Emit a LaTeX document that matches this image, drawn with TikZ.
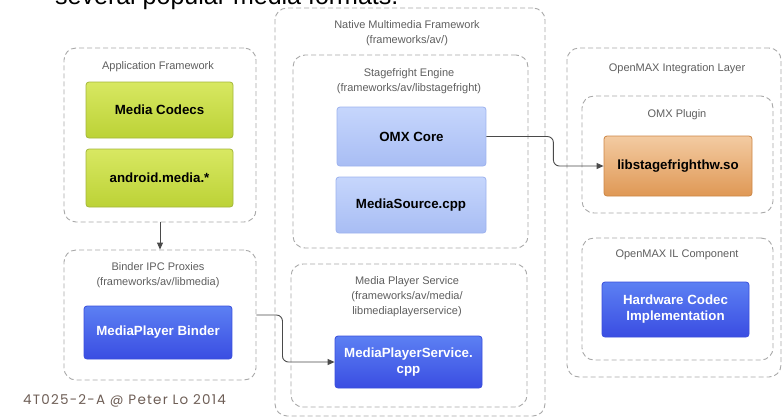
\documentclass[tikz,border=0pt]{standalone}
\usepackage{fontspec}
\setmainfont{Liberation Sans}
\newfontfamily\footfont[LetterSpace=9]{Poppins}
\usepackage{tikz}
\usetikzlibrary{arrows.meta}
\usepackage{xcolor}
\definecolor{groupgray}{HTML}{A8A8A8}
\definecolor{titlegray}{HTML}{5E5E5E}
\definecolor{linkgray}{HTML}{4A4A4A}
\definecolor{footbrown}{HTML}{6E5E56}
\definecolor{greentop}{HTML}{D8E862}
\definecolor{greenbot}{HTML}{BCD236}
\definecolor{greenline}{HTML}{A3B63A}
\definecolor{paletop}{HTML}{C6D6FC}
\definecolor{palebot}{HTML}{A8BDF4}
\definecolor{paleline}{HTML}{9DB2EE}
\definecolor{deeptop}{HTML}{5C80F3}
\definecolor{deepbot}{HTML}{3A4DE2}
\definecolor{deepline}{HTML}{3A4EDC}
\definecolor{orangetop}{HTML}{F3CBA2}
\definecolor{orangebot}{HTML}{DF9855}
\definecolor{orangeline}{HTML}{CC8646}

\tikzset{
  group/.style={draw=groupgray, line width=0.9pt, dash pattern=on 5pt off 3pt,
    rounded corners=12pt, inner sep=0pt},
  grouptitle/.style={text=titlegray, font=\fontsize{11}{15}\selectfont, align=center},
  block/.style={rounded corners=3pt, line width=0.8pt, align=center,
    font=\fontsize{13.3}{16}\selectfont\bfseries, inner sep=0pt},
  greenbox/.style={block, draw=greenline, top color=greentop, bottom color=greenbot},
  paleblue/.style={block, draw=paleline, top color=paletop, bottom color=palebot},
  deepblue/.style={block, draw=deepline, top color=deeptop, bottom color=deepbot, text=white},
  orangebox/.style={block, draw=orangeline, top color=orangetop, bottom color=orangebot},
  link/.style={draw=linkgray, line width=0.9pt, rounded corners=6pt, -{Triangle[length=7pt,width=6pt]}}
}

\begin{document}
\begin{tikzpicture}[x=1pt, y=-1pt]
\clip (0,0) rectangle (784,418);

% heading of the slide, cut at the top edge
\node[anchor=base west, inner sep=0pt, font=\fontsize{25}{30}\selectfont] (heading) at (55,4.5) {several popular media formats.};

% Left column
\node[group, minimum width=192pt, minimum height=174pt] (appfw) at (160,135) {};
\node[grouptitle] (appfwtitle) at (158,67) {Application Framework};
\node[greenbox, minimum width=147pt, minimum height=56pt] (codecs) at (159.5,110) {Media Codecs};
\node[greenbox, minimum width=147pt, minimum height=58pt] (andmedia) at (159.5,178) {android.media.*};

\node[group, minimum width=192pt, minimum height=130pt] (binderfw) at (160,315) {};
\node[grouptitle] (binderfwtitle) at (158,275.5) {Binder IPC Proxies\\(frameworks/av/libmedia)};
\node[deepblue, minimum width=148pt, minimum height=53pt] (mpbinder) at (158,332.5) {MediaPlayer Binder};

% Middle column
\node[group, minimum width=270pt, minimum height=408pt] (nativefw) at (410,212) {};
\node[grouptitle] (nativefwtitle) at (407,33) {Native Multimedia Framework\\(frameworks/av/)};

\node[group, minimum width=235pt, minimum height=193pt] (stagefright) at (410.5,151.5) {};
\node[grouptitle] (stagefrighttitle) at (409,81) {Stagefright Engine\\(frameworks/av/libstagefright)};
\node[paleblue, minimum width=149pt, minimum height=59pt] (omxcore) at (411.5,136.5) {OMX Core};
\node[paleblue, minimum width=150pt, minimum height=56pt] (mediasrc) at (411,205) {MediaSource.cpp};

\node[group, minimum width=236pt, minimum height=143pt] (mpsfw) at (409,335.5) {};
\node[grouptitle] (mpsfwtitle) at (407,297) {Media Player Service\\(frameworks/av/media/\\libmediaplayerservice)};
\node[deepblue, minimum width=147pt, minimum height=52pt] (mpscpp) at (408.5,362) {MediaPlayerService.\\cpp};

% Right column
\node[group, minimum width=214pt, minimum height=329pt] (omxlayer) at (674,212.5) {};
\node[grouptitle] (omxlayertitle) at (677,69) {OpenMAX Integration Layer};

\node[group, minimum width=191pt, minimum height=117pt] (omxplugin) at (677.5,154.5) {};
\node[grouptitle] (omxplugintitle) at (677,115) {OMX Plugin};
\node[orangebox, minimum width=148pt, minimum height=60pt] (stagehw) at (678,166) {libstagefrighthw.so};

\node[group, minimum width=191pt, minimum height=122pt] (omxil) at (677.5,299) {};
\node[grouptitle] (omxiltitle) at (677,255) {OpenMAX IL Component};
\node[deepblue, minimum width=147pt, minimum height=55pt] (hwcodec) at (675.5,309.5) {Hardware Codec\\Implementation};

% connectors
\draw[link] (appfw.south) -- (binderfw.north);
\draw[link] (binderfw.east) -- ++(26,0) |- (mpscpp.west);
\draw[link] (omxcore.east) -- ++(67,0) |- (stagehw.west);

% footer
\node[anchor=base west, inner sep=0pt, text=footbrown, font=\footfont\fontsize{13.5}{16}\selectfont] (footer) at (23,404) {4T025-2-A @ Peter Lo 2014};
\end{tikzpicture}
\end{document}
